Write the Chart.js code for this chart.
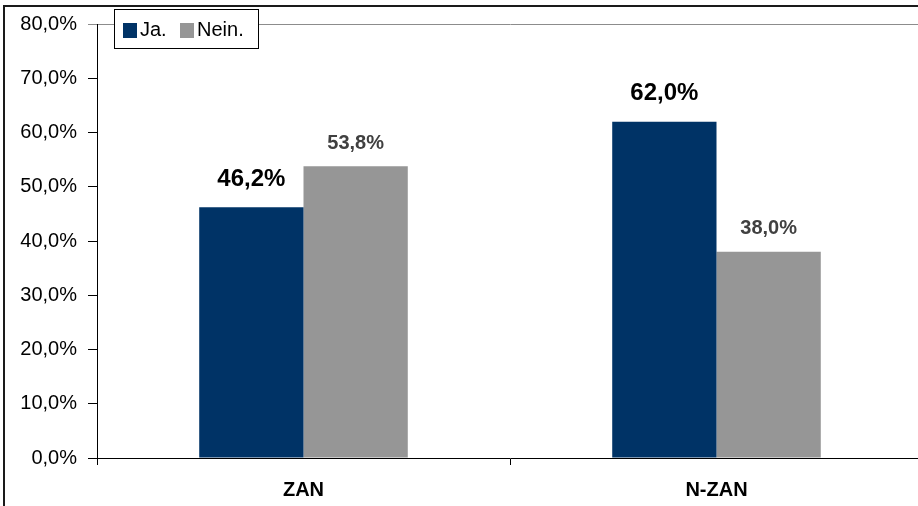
<!DOCTYPE html>
<html>
<head>
<meta charset="utf-8">
<script src="https://cdn.jsdelivr.net/npm/chart.js@4/dist/chart.umd.min.js"></script>
<style>
  html, body { margin: 0; padding: 0; background: #fff; overflow: hidden; }
  #wrap { width: 930px; height: 506px; }
</style>
</head>
<body>
<div id="wrap"><canvas id="chart1" width="930" height="506"></canvas></div>
<script>
  "use strict";

  // data
  var categories = ['ZAN', 'N-ZAN'];
  var seriesJa = [46.2, 62.0];
  var seriesNein = [53.8, 38.0];
  var seriesNames = ['Ja.', 'Nein.'];
  var yTicks = [0, 10, 20, 30, 40, 50, 60, 70, 80];

  var fontFamily = '"Liberation Sans", Arial, sans-serif';

  function pct(v) {
    return v.toFixed(1).replace('.', ',') + '%';
  }

  // outer frame (only left + top visible in the picture)
  var framePlugin = {
    id: 'frame',
    beforeDraw: function (chart) {
      var c = chart.ctx;
      c.save();
      c.strokeStyle = '#1a1a1a';
      c.lineWidth = 2;
      c.beginPath();
      c.moveTo(4, chart.height + 5);
      c.lineTo(4, 6);
      c.lineTo(chart.width + 5, 6);
      c.stroke();
      c.restore();
    }
  };

  // value labels above bars
  var valuePlugin = {
    id: 'values',
    afterDatasetsDraw: function (chart) {
      var c = chart.ctx;
      c.save();
      c.textAlign = 'center';
      c.textBaseline = 'middle';
      chart.data.datasets.forEach(function (ds, i) {
        var meta = chart.getDatasetMeta(i);
        meta.data.forEach(function (bar, j) {
          if (i === 0) {
            c.font = 'bold 24px ' + fontFamily;
            c.fillStyle = '#000';
            c.fillText(pct(ds.data[j]), bar.x, bar.y - 28);
          } else {
            c.font = 'bold 20px ' + fontFamily;
            c.fillStyle = '#404040';
            c.fillText(pct(ds.data[j]), bar.x, bar.y - 23);
          }
        });
      });
      c.restore();
    }
  };

  // boxed legend overlapping the plot top
  var legendPlugin = {
    id: 'boxLegend',
    afterDraw: function (chart) {
      var c = chart.ctx;
      c.save();
      c.fillStyle = '#fff';
      c.fillRect(114, 9, 145, 40);
      c.strokeStyle = '#000';
      c.lineWidth = 1;
      c.strokeRect(114.5, 9.5, 144, 39);
      c.font = '20px ' + fontFamily;
      c.textBaseline = 'middle';
      c.textAlign = 'left';
      var xs = [123, 180];
      chart.data.datasets.forEach(function (ds, i) {
        c.fillStyle = ds.backgroundColor;
        c.fillRect(xs[i], 23, 14, 15);
        c.fillStyle = '#000';
        c.fillText(ds.label, xs[i] + 17, 30);
      });
      c.restore();
    }
  };

  var ctx = document.getElementById('chart1').getContext('2d');

  var myChart = new Chart(ctx, {
    type: 'bar',
    data: {
      labels: categories,
      datasets: [{
        label: seriesNames[0],
        data: seriesJa,
        backgroundColor: '#003366',
        borderWidth: 0
      },
      {
        label: seriesNames[1],
        data: seriesNein,
        backgroundColor: '#969696',
        borderWidth: 0
      }]
    },
    options: {
      responsive: false,
      animation: false,
      barPercentage: 1,
      categoryPercentage: 0.505,
      layout: {
        padding: { top: 24, right: 7, left: 0, bottom: 0 }
      },
      plugins: {
        legend: { display: false },
        tooltip: { enabled: false }
      },
      scales: {
        x: {
          afterFit: function (scale) { scale.height = 48; },
          ticks: {
            color: '#000',
            padding: 13,
            font: { family: fontFamily, size: 20, weight: 'bold' }
          },
          grid: {
            offset: true,
            drawOnChartArea: false,
            tickLength: 7,
            tickColor: '#000'
          },
          border: { color: '#000', width: 1 }
        },
        y: {
          min: 0,
          max: 80,
          afterFit: function (scale) { scale.width = 97; },
          afterBuildTicks: function (scale) {
            scale.ticks = yTicks.map(function (v) { return { value: v }; });
          },
          ticks: {
            color: '#000',
            padding: 11,
            font: { family: fontFamily, size: 20 },
            callback: function (v) { return pct(v); }
          },
          grid: {
            tickLength: 9,
            color: function (c) { return c.tick && c.tick.value === 80 ? '#8c8c8c' : 'rgba(0,0,0,0)'; },
            tickColor: function (c) { return c.tick && c.tick.value === 80 ? '#8c8c8c' : '#000'; }
          },
          border: { color: '#000', width: 1 }
        }
      }
    },
    plugins: [framePlugin, valuePlugin, legendPlugin]
  });
</script>
</body>
</html>
